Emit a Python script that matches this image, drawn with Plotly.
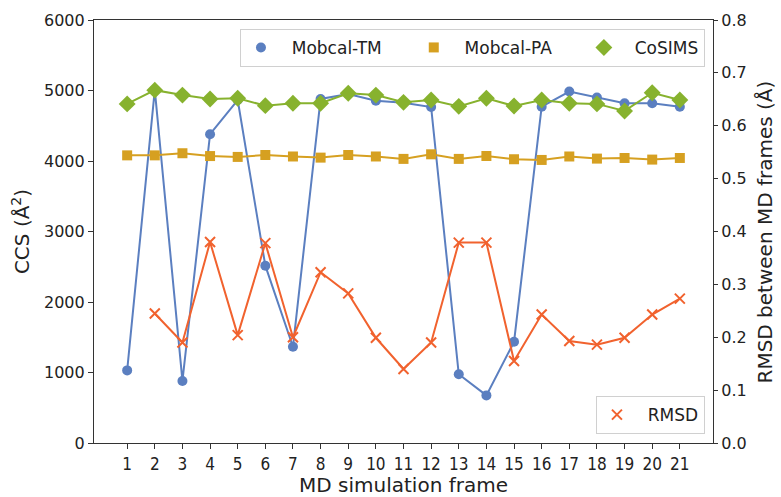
import plotly.graph_objects as go

frames = list(range(1, 22))
mobcal_tm = [1030, 5010, 880, 4380, 4865, 2515, 1365, 4880, 4950, 4855, 4825,
             4765, 975, 675, 1435, 4770, 4985, 4900, 4820, 4820, 4770]
mobcal_pa = [4080, 4080, 4110, 4070, 4058, 4085, 4064, 4048, 4085, 4064, 4030,
             4095, 4030, 4071, 4025, 4015, 4064, 4034, 4043, 4020, 4043]
cosims = [4810, 5005, 4935, 4880, 4890, 4785, 4820, 4820, 4960, 4935, 4832,
          4865, 4775, 4890, 4780, 4865, 4820, 4810, 4710, 4968, 4865]
rmsd_frames = list(range(2, 22))
rmsd = [0.245, 0.190, 0.380, 0.204, 0.378, 0.200, 0.323, 0.283, 0.199, 0.140,
        0.190, 0.379, 0.379, 0.155, 0.243, 0.193, 0.186, 0.199, 0.243, 0.273]
x_ticks = [str(f) for f in frames]

BLUE = "#5B7FC0"
GOLD = "#D6A021"
GREEN = "#87B22E"
RED = "#F1622E"
FONT = "DejaVu Sans"
NB = "\u00a0"

fig = go.Figure()

series = [
    ("Mobcal-TM", mobcal_tm, BLUE, "circle", 10, NB * 2, NB * 5),
    ("Mobcal-PA", mobcal_pa, GOLD, "square", 10, NB * 2, NB * 5),
    ("CoSIMS", cosims, GREEN, "diamond", 13, NB * 2, ""),
]
for name, vals, col, sym, sz, pre, post in series:
    fig.add_trace(go.Scatter(x=frames, y=vals, mode="lines",
                             line=dict(color=col, width=2),
                             showlegend=False, hoverinfo="skip"))
    fig.add_trace(go.Scatter(x=frames, y=vals, mode="markers",
                             name=pre + name + post,
                             marker=dict(color=col, symbol=sym, size=sz,
                                         line=dict(width=0)),
                             legend="legend"))

fig.add_trace(go.Scatter(x=rmsd_frames, y=rmsd, mode="lines", yaxis="y2",
                         line=dict(color=RED, width=2),
                         showlegend=False, hoverinfo="skip"))
fig.add_trace(go.Scatter(x=rmsd_frames, y=rmsd, mode="markers", yaxis="y2",
                         name=NB * 2 + "RMSD",
                         marker=dict(color=RED, symbol="x-thin", size=10,
                                     line=dict(color=RED, width=2)),
                         legend="legend2"))

axis_common = dict(showgrid=False, zeroline=False, showline=True,
                   linecolor="#333333", linewidth=1.2, ticks="outside",
                   ticklen=5, tickcolor="#333333", automargin=False,
                   tickfont=dict(family=FONT, size=16, color="#222222"))

fig.update_layout(
    width=781, height=497, autosize=False,
    margin=dict(l=94, r=68, t=20, b=54),
    paper_bgcolor="white", plot_bgcolor="white",
    font=dict(family=FONT, color="#222222"),
    xaxis=dict(axis_common, range=[-0.2, 22.2], tickvals=frames,
               ticktext=x_ticks, mirror=True,
               tickfont=dict(family="DejaVu Sans Condensed", size=17,
                             color="#222222"),
               title=dict(text="MD simulation frame",
                          font=dict(family=FONT, size=20), standoff=2)),
    yaxis=dict(axis_common, range=[0, 6000], dtick=1000,
               title=dict(text="CCS (Å<sup>2</sup>)",
                          font=dict(family=FONT, size=20), standoff=8)),
    yaxis2=dict(axis_common, range=[0, 0.8], dtick=0.1, tickformat=".1f",
                overlaying="y", side="right", ticklen=4,
                tickfont=dict(family=FONT, size=16, color="#222222")),
    annotations=[dict(text="RMSD between MD frames (Å)", xref="paper",
                      yref="paper", x=1.084, y=0.5, xanchor="center",
                      yanchor="middle", textangle=-90, showarrow=False,
                      font=dict(family=FONT, size=20, color="#222222"))],
    legend=dict(orientation="h", x=0.987, xanchor="right", y=0.979,
                yanchor="top", bgcolor="white", bordercolor="#d0d0d0",
                borderwidth=1, font=dict(family=FONT, size=17)),
    legend2=dict(x=0.987, xanchor="right", y=0.021, yanchor="bottom",
                 bgcolor="white", bordercolor="#d0d0d0", borderwidth=1,
                 font=dict(family=FONT, size=17)),
)

fig.write_html("out.html", config={"displayModeBar": False},
               post_script="document.body.style.margin='0';")
